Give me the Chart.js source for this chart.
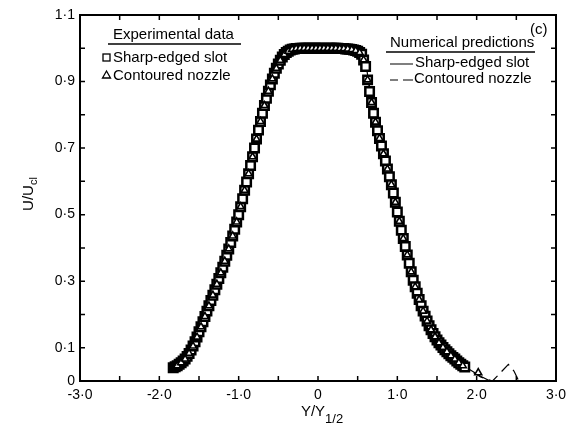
<!DOCTYPE html>
<html>
<head>
<meta charset="utf-8">
<script src="https://cdn.jsdelivr.net/npm/chart.js@4/dist/chart.umd.min.js"></script>
<style>
    body { margin: 0; background: #fff; }
    .wrap { width: 575px; height: 428px; position: relative; }
</style>
</head>
<body>
<div class="wrap"><canvas id="profile"></canvas></div>
<script>
// experimental data, sharp-edged slot (squares)
const squareX = [-1.825,-1.800,-1.775,-1.750,-1.725,-1.700,-1.675,-1.650,-1.625,-1.600,-1.575,-1.550,-1.525,-1.500,-1.475,-1.450,-1.425,-1.400,-1.375,-1.350,
    -1.325,-1.300,-1.275,-1.250,-1.225,-1.200,-1.175,-1.150,-1.125,-1.100,-1.075,-1.050,-1.025,-1.000,-0.975,-0.950,-0.925,-0.900,-0.875,-0.850,
    -0.825,-0.800,-0.775,-0.750,-0.725,-0.700,-0.675,-0.650,-0.625,-0.600,-0.575,-0.550,-0.525,-0.500,-0.475,-0.450,-0.425,-0.400,-0.375,-0.350,
    -0.325,-0.300,-0.275,-0.250,-0.225,-0.200,-0.175,-0.150,-0.125,-0.100,-0.075,-0.050,-0.025,0.000,0.025,0.050,0.075,0.100,0.125,0.150,
    0.175,0.200,0.225,0.250,0.275,0.300,0.325,0.350,0.375,0.400,0.425,0.450,0.475,0.500,0.525,0.550,0.575,0.600,0.625,0.650,
    0.675,0.700,0.725,0.750,0.775,0.800,0.825,0.850,0.875,0.900,0.925,0.950,0.975,1.000,1.025,1.050,1.075,1.100,1.125,1.150,
    1.175,1.200,1.225,1.250,1.275,1.300,1.325,1.350,1.375,1.400,1.425,1.450,1.475,1.500,1.525,1.550,1.575,1.600,1.625,1.650,
    1.675,1.700,1.725,1.750,1.775,1.800,1.825,1.850];
const squareY = [0.040,0.043,0.046,0.050,0.055,0.060,0.066,0.074,0.083,0.093,0.105,0.118,0.132,0.148,0.163,0.178,0.194,0.210,0.226,0.242,
    0.258,0.274,0.291,0.308,0.325,0.342,0.360,0.378,0.397,0.416,0.436,0.456,0.478,0.500,0.524,0.548,0.573,0.598,0.623,0.648,
    0.674,0.700,0.727,0.754,0.780,0.805,0.828,0.850,0.871,0.890,0.908,0.925,0.940,0.953,0.964,0.974,0.981,0.987,0.991,0.995,
    0.997,0.998,0.999,0.999,1.000,1.000,1.000,1.000,1.000,1.000,1.000,1.000,1.000,1.000,1.000,1.000,1.000,0.999,1.000,1.000,
    1.000,1.000,1.000,1.000,0.999,0.999,0.999,0.998,0.998,0.997,0.996,0.995,0.993,0.991,0.987,0.982,0.965,0.945,0.905,0.870,
    0.837,0.805,0.778,0.752,0.729,0.706,0.683,0.661,0.637,0.614,0.590,0.565,0.537,0.508,0.480,0.453,0.428,0.404,0.379,0.354,
    0.328,0.303,0.283,0.264,0.245,0.226,0.210,0.195,0.180,0.166,0.154,0.143,0.133,0.123,0.115,0.108,0.101,0.094,0.088,0.082,
    0.076,0.071,0.066,0.060,0.055,0.050,0.046,0.042];

// experimental data, contoured nozzle (triangles)
const triangleX = [-1.775,-1.725,-1.675,-1.625,-1.575,-1.525,-1.475,-1.425,-1.375,-1.325,-1.275,-1.225,-1.175,-1.125,-1.075,-1.025,-0.975,-0.925,-0.875,-0.825,
    -0.775,-0.725,-0.675,-0.625,-0.575,-0.525,-0.475,-0.425,-0.375,-0.325,-0.275,-0.225,-0.175,-0.125,-0.075,-0.025,0.025,0.075,0.125,0.175,
    0.225,0.275,0.325,0.375,0.425,0.475,0.525,0.575,0.625,0.675,0.725,0.775,0.825,0.875,0.925,0.975,1.025,1.075,1.125,1.175,
    1.225,1.275,1.325,1.375,1.425,1.475,1.525,1.575,1.625,1.675,1.725,1.775,1.825,2.02];
const triangleY = [0.046,0.055,0.066,0.083,0.105,0.132,0.163,0.194,0.226,0.258,0.291,0.325,0.360,0.397,0.436,0.478,0.524,0.573,0.623,0.674,
    0.727,0.780,0.828,0.871,0.908,0.940,0.964,0.981,0.991,0.997,0.999,1.000,1.000,1.000,1.000,1.000,1.000,1.000,1.000,1.000,
    1.000,0.999,0.999,0.998,0.996,0.993,0.987,0.965,0.905,0.837,0.778,0.729,0.683,0.637,0.590,0.537,0.480,0.428,0.379,0.328,
    0.283,0.245,0.210,0.180,0.154,0.133,0.115,0.101,0.088,0.076,0.066,0.055,0.046,0.025];

// numerical predictions
const slotLineX = [-1.85,-1.7,-1.5,-1.3,-1.1,-0.9,-0.7,-0.55,-0.4,-0.3,0,0.3,0.45,0.55,0.6,0.65,0.7,0.8,0.9,1.1,1.3,1.5,1.7,1.9,2.05,2.17];
const slotLineY = [0.036,0.062,0.148,0.274,0.416,0.598,0.805,0.925,0.987,0.998,1.0,1.0,0.996,0.99,0.96,0.88,0.805,0.706,0.614,0.404,0.226,0.123,0.071,0.036,0.014,0.0];
const nozzleLineX = [-1.85,-1.7,-1.5,-1.3,-1.1,-0.9,-0.7,-0.55,-0.4,-0.3,0,0.3,0.45,0.55,0.62,0.7,0.8,0.9,1.1,1.3,1.5,1.7,1.9,2.05,2.2,2.3,2.4,2.47,2.53];
const nozzleLineY = [0.034,0.06,0.145,0.27,0.412,0.595,0.80,0.922,0.985,0.997,1.0,1.0,0.995,0.985,0.93,0.80,0.70,0.61,0.40,0.222,0.12,0.07,0.034,0.012,0.0,0.025,0.05,0.03,0.0];

// tick labels, keyed by value*10
const xTickText = {'-30': '-3·0', '-20': '-2·0', '-10': '-1·0', '0': '0', '10': '1·0', '20': '2·0', '30': '3·0'};
const yTickText = {'0': '0', '1': '0·1', '3': '0·3', '5': '0·5', '7': '0·7', '9': '0·9', '11': '1·1'};

const FONT = '"Liberation Sans", Arial, sans-serif';

function pts(xs, ys) {
    return xs.map((x, i) => ({x: x, y: ys[i]}));
}

const paperPlugin = {
    id: 'paper',
    afterDraw(chart) {
        const ctx = chart.ctx;
        const a = chart.chartArea;
        const sx = chart.scales.x, sy = chart.scales.y;
        ctx.save();
        ctx.strokeStyle = '#000';
        ctx.fillStyle = '#000';

        // frame
        ctx.lineWidth = 2;
        ctx.strokeRect(a.left, a.top, a.right - a.left, a.bottom - a.top);

        // inward ticks on all four sides
        ctx.lineWidth = 1.5;
        ctx.beginPath();
        sx.ticks.forEach(t => {
            const px = sx.getPixelForValue(t.value);
            ctx.moveTo(px, a.bottom); ctx.lineTo(px, a.bottom - 5);
            ctx.moveTo(px, a.top); ctx.lineTo(px, a.top + 5);
        });
        sy.ticks.forEach(t => {
            const py = sy.getPixelForValue(t.value);
            ctx.moveTo(a.left, py); ctx.lineTo(a.left + 5, py);
            ctx.moveTo(a.right, py); ctx.lineTo(a.right - 5, py);
        });
        ctx.stroke();

        // axis titles
        ctx.textBaseline = 'middle';
        ctx.textAlign = 'left';
        ctx.font = '15px ' + FONT;
        const wMain = ctx.measureText('Y/Y').width;
        ctx.font = '13px ' + FONT;
        const wSub = ctx.measureText('1/2').width;
        const tx = (a.left + a.right) / 2 - (wMain + wSub) / 2 + 4;
        ctx.font = '15px ' + FONT;
        ctx.fillText('Y/Y', tx, 412);
        ctx.font = '13px ' + FONT;
        ctx.fillText('1/2', tx + wMain, 419);

        ctx.save();
        ctx.translate(29, 194);
        ctx.rotate(-Math.PI / 2);
        ctx.font = '15px ' + FONT;
        const wU = ctx.measureText('U/U').width;
        ctx.font = '11px ' + FONT;
        const wCl = ctx.measureText('cl').width;
        ctx.font = '15px ' + FONT;
        ctx.fillText('U/U', -(wU + wCl) / 2, 0);
        ctx.font = '11px ' + FONT;
        ctx.fillText('cl', -(wU + wCl) / 2 + wU, 5);
        ctx.restore();

        // left legend block
        ctx.font = '15px ' + FONT;
        ctx.fillText('Experimental data', a.left + 33, 35);
        ctx.lineWidth = 1.5;
        ctx.beginPath();
        ctx.moveTo(a.left + 28, 44); ctx.lineTo(a.left + 161, 44);
        ctx.stroke();
        ctx.lineWidth = 1.3;
        ctx.strokeRect(a.left + 23, 54, 7, 7);
        ctx.beginPath();
        ctx.moveTo(a.left + 26.5, 71); ctx.lineTo(a.left + 30.5, 78); ctx.lineTo(a.left + 22.5, 78); ctx.closePath();
        ctx.stroke();
        ctx.fillText('Sharp-edged slot', a.left + 33, 58);
        ctx.fillText('Contoured nozzle', a.left + 33, 76);

        // right legend block
        ctx.fillText('(c)', 530, 30);
        ctx.fillText('Numerical predictions', 390, 43);
        ctx.lineWidth = 1.5;
        ctx.beginPath();
        ctx.moveTo(386, 52); ctx.lineTo(535, 52);
        ctx.stroke();
        ctx.lineWidth = 1.2;
        ctx.beginPath();
        ctx.moveTo(390, 64); ctx.lineTo(413, 64);
        ctx.moveTo(390, 80); ctx.lineTo(398, 80);
        ctx.moveTo(403, 80); ctx.lineTo(413, 80);
        ctx.stroke();
        ctx.fillText('Sharp-edged slot', 415, 63);
        ctx.fillText('Contoured nozzle', 414, 79);

        ctx.restore();
    }
};

new Chart(document.getElementById('profile'), {
    type: 'scatter',
    data: {
        datasets: [
            {
                label: 'Sharp-edged slot (numerical)',
                data: pts(slotLineX, slotLineY),
                showLine: true,
                borderColor: '#000',
                borderWidth: 1.2,
                pointRadius: 0,
                order: 4
            },
            {
                label: 'Contoured nozzle (numerical)',
                data: pts(nozzleLineX, nozzleLineY),
                showLine: true,
                borderColor: '#000',
                borderWidth: 1.2,
                borderDash: [11, 6],
                pointRadius: 0,
                order: 3
            },
            {
                label: 'Sharp-edged slot',
                data: pts(squareX, squareY),
                pointStyle: 'rect',
                pointRadius: 6,
                borderColor: '#000',
                backgroundColor: '#fff',
                borderWidth: 2.5,
                order: 2
            },
            {
                label: 'Contoured nozzle',
                data: pts(triangleX, triangleY),
                pointStyle: 'triangle',
                pointRadius: 4,
                borderColor: '#000',
                backgroundColor: '#fff',
                borderWidth: 1.6,
                order: 1
            }
        ]
    },
    options: {
        responsive: true,
        maintainAspectRatio: false,
        animation: false,
        layout: { padding: { left: 0, right: 19, top: 15, bottom: 0 } },
        plugins: {
            legend: { display: false },
            tooltip: { enabled: false }
        },
        scales: {
            x: {
                type: 'linear',
                min: -3, max: 3,
                grid: { display: false, drawTicks: false },
                border: { display: false },
                ticks: {
                    stepSize: 0.5,
                    padding: 6,
                    maxRotation: 0,
                    autoSkip: false,
                    color: '#000',
                    font: { family: FONT, size: 14 },
                    callback: v => xTickText[String(Math.round(v * 10))] || ''
                },
                afterFit: s => { s.height = 47; }
            },
            y: {
                type: 'linear',
                min: 0, max: 1.1,
                grid: { display: false, drawTicks: false },
                border: { display: false },
                ticks: {
                    stepSize: 0.1,
                    padding: 5,
                    autoSkip: false,
                    color: '#000',
                    font: { family: FONT, size: 14 },
                    callback: v => yTickText[String(Math.round(v * 10))] || ''
                },
                afterFit: s => { s.width = 80; }
            }
        }
    },
    plugins: [paperPlugin]
});
</script>
</body>
</html>
